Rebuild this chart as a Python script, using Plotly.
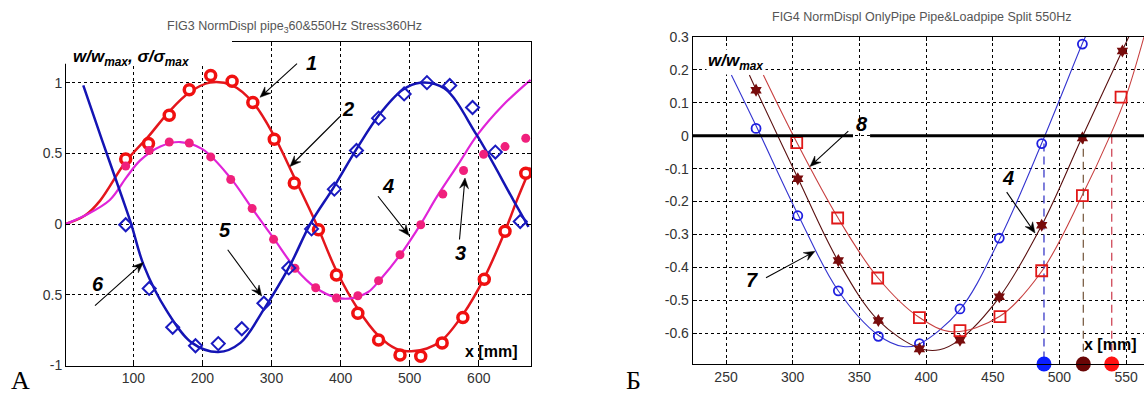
import math
import plotly.graph_objects as go

W, H = 1144, 403

# ---------------- Panel A data ----------------
red_line_x = [2, 30, 52, 89, 122, 151, 181, 211, 243, 273, 303, 333, 365, 394, 425, 455, 480, 502, 525, 547, 577, 608, 638, 655, 675]
red_line_y = [0, 0.06, 0.166, 0.44, 0.62, 0.79, 0.93, 1.0, 0.98, 0.86, 0.63, 0.33, 0.0, -0.33, -0.6, -0.79, -0.88, -0.9, -0.88, -0.82, -0.64, -0.38, -0.05, 0.166, 0.4]
red_pts_x = [89, 122, 152, 181, 212, 243, 273, 304, 333, 368, 394, 425, 455, 486, 516, 547, 577, 608, 638, 668]
red_pts_y = [0.46, 0.57, 0.77, 0.95, 1.05, 1.01, 0.86, 0.6, 0.29, -0.04, -0.36, -0.63, -0.82, -0.925, -0.935, -0.84, -0.66, -0.39, -0.05, 0.36]

mag_line_x = [2, 30, 66, 90, 110, 140, 168, 200, 240, 272, 303, 334, 364, 394, 415, 440, 456, 486, 516, 539, 570, 598, 635, 675]
mag_line_y = [0, 0.06, 0.17, 0.33, 0.45, 0.55, 0.58, 0.53, 0.33, 0.11, -0.1, -0.31, -0.45, -0.52, -0.525, -0.48, -0.4, -0.22, 0.0, 0.19, 0.42, 0.63, 0.84, 1.02]
mag_pts_x = [89, 123, 152, 181, 212, 241, 272, 303, 334, 364, 394, 425, 455, 486, 516, 548, 578, 607, 638, 668]
mag_pts_y = [0.41, 0.52, 0.58, 0.573, 0.475, 0.315, 0.11, -0.108, -0.313, -0.45, -0.523, -0.507, -0.4, -0.217, -0.005, 0.212, 0.379, 0.493, 0.548, 0.607]

blue_line_x = [27.6, 55, 83, 97, 115, 148, 185, 223, 255, 288, 327, 356, 390, 423, 457, 490, 515, 550, 597, 650, 672]
blue_line_y = [0.98, 0.59, 0.2, 0.0, -0.29, -0.61, -0.84, -0.905, -0.84, -0.61, -0.29, 0.0, 0.26, 0.53, 0.78, 0.95, 1.0, 0.96, 0.63, 0.17, -0.02]
blue_pts_x = [89, 123, 157, 190, 223, 257, 289, 325, 358, 391, 423, 455, 492, 525, 558, 591, 624, 660]
blue_pts_y = [-0.005, -0.455, -0.73, -0.86, -0.845, -0.74, -0.56, -0.31, -0.034, 0.247, 0.52, 0.749, 0.92, 1.0, 0.98, 0.824, 0.509, 0.018]

# ---------------- Panel B data ----------------
b_blue_line_x = [254, 272.5, 304, 334, 364, 383, 395, 425, 455, 487, 517, 519.5]
b_blue_line_y = [0.184, 0.03, -0.24, -0.47, -0.605, -0.64, -0.632, -0.53, -0.315, -0.02, 0.278, 0.3]
b_blue_pts_x = [272.5, 303.8, 334.2, 364.2, 395, 425.4, 454.9, 486.7, 517.2]
b_blue_pts_y = [0.022, -0.243, -0.471, -0.609, -0.631, -0.526, -0.311, -0.024, 0.278]

b_mar_line_x = [267.5, 272.5, 304, 334, 364, 395, 410, 425, 455, 487, 517, 547, 552]
b_mar_line_y = [0.184, 0.14, -0.13, -0.38, -0.56, -0.645, -0.65, -0.62, -0.49, -0.27, -0.005, 0.257, 0.3]
b_mar_pts_x = [272.5, 303.8, 334.2, 364.2, 395, 425.4, 454.9, 486.7, 517.2, 547.2]
b_mar_pts_y = [0.138, -0.131, -0.379, -0.561, -0.647, -0.621, -0.489, -0.272, -0.007, 0.257]

b_red_line_x = [278, 303, 334, 364, 395, 420, 455, 487, 517, 538, 550, 563.4]
b_red_line_y = [0.184, -0.02, -0.25, -0.432, -0.552, -0.595, -0.549, -0.41, -0.182, 0.0, 0.12, 0.3]
b_red_pts_x = [303, 333.7, 363.7, 395, 425.4, 455.4, 486.7, 517.2, 546.2]
b_red_pts_y = [-0.021, -0.25, -0.432, -0.552, -0.592, -0.549, -0.41, -0.182, 0.117]

split_x = [488.4, 517.9, 539.2]
split_top_y = [-0.024, 0.0, 0.0]
split_line_colors = ["#3a3ac8", "#7d6048", "#d04858"]
split_dot_colors = ["#0a1eff", "#6a0606", "#ff1212"]

# tick labels
a_xticks = [100, 200, 300, 400, 500, 600]
a_yticks = [-1, -0.5, 0, 0.5, 1]
a_yticktext = ["-1", "0.5", "0", "0.5", "1"]
b_xticks = [250, 300, 350, 400, 450, 500, 550]
b_yticks = [-0.6, -0.5, -0.4, -0.3, -0.2, -0.1, 0, 0.1, 0.2, 0.3]
b_yticktext = ["-0.6", "-0.5", "-0.4", "-0.3", "-0.2", "-0.1", "0", "0.1", "0.2", "0.3"]

fig = go.Figure()

# Panel A traces
fig.add_trace(go.Scatter(x=red_line_x, y=red_line_y, mode="lines", line=dict(color="#e4161c", width=2.5, shape="spline"), xaxis="x", yaxis="y"))
fig.add_trace(go.Scatter(x=mag_line_x, y=mag_line_y, mode="lines", line=dict(color="#e024d8", width=2.2, shape="spline"), xaxis="x", yaxis="y"))
fig.add_trace(go.Scatter(x=blue_line_x, y=blue_line_y, mode="lines", line=dict(color="#1414b4", width=2.5, shape="spline"), xaxis="x", yaxis="y"))
fig.add_trace(go.Scatter(x=red_pts_x, y=red_pts_y, mode="markers", marker=dict(symbol="circle", size=10, color="white", line=dict(color="#f01010", width=3.5)), xaxis="x", yaxis="y"))
fig.add_trace(go.Scatter(x=mag_pts_x, y=mag_pts_y, mode="markers", marker=dict(symbol="circle", size=9, color="#f0207c", line=dict(width=0)), xaxis="x", yaxis="y"))
fig.add_trace(go.Scatter(x=blue_pts_x, y=blue_pts_y, mode="markers", marker=dict(symbol="diamond-open", size=10, color="#1a1ac0", line=dict(color="#1a1ac0", width=2)), xaxis="x", yaxis="y"))

# Panel B traces
fig.add_trace(go.Scatter(x=b_blue_line_x, y=b_blue_line_y, mode="lines", line=dict(color="#3434d0", width=1.1, shape="spline"), xaxis="x2", yaxis="y2"))
fig.add_trace(go.Scatter(x=b_mar_line_x, y=b_mar_line_y, mode="lines", line=dict(color="#5a1010", width=1.1, shape="spline"), xaxis="x2", yaxis="y2"))
fig.add_trace(go.Scatter(x=b_red_line_x, y=b_red_line_y, mode="lines", line=dict(color="#c84040", width=1.1, shape="spline"), xaxis="x2", yaxis="y2"))
for sx, sy, c in zip(split_x, split_top_y, split_line_colors):
    fig.add_trace(go.Scatter(x=[sx, sx], y=[sy, -0.693], mode="lines", line=dict(color=c, width=1.3, dash="8px,5px"), xaxis="x2", yaxis="y2"))
fig.add_trace(go.Scatter(x=b_blue_pts_x, y=b_blue_pts_y, mode="markers", marker=dict(symbol="circle-open", size=9, color="#2020e0", line=dict(color="#2020e0", width=1.8)), xaxis="x2", yaxis="y2"))
fig.add_trace(go.Scatter(x=b_mar_pts_x, y=b_mar_pts_y, mode="markers", marker=dict(symbol="hexagram", size=10, color="#780c0c", line=dict(width=0)), xaxis="x2", yaxis="y2"))
fig.add_trace(go.Scatter(x=b_red_pts_x, y=b_red_pts_y, mode="markers", marker=dict(symbol="square-open", size=11, color="#e01818", line=dict(color="#e01818", width=1.8)), xaxis="x2", yaxis="y2"))
fig.add_trace(go.Scatter(x=split_x, y=[-0.693] * 3, mode="markers", marker=dict(symbol="circle", size=15, color=split_dot_colors), cliponaxis=False, xaxis="x2", yaxis="y2"))


def px(xp):
    return xp / W


def py(yp):
    return 1 - yp / H


tickfont = dict(family="Liberation Sans, Arial, sans-serif", size=14, color="#333")
common_axis = dict(showgrid=True, gridcolor="black", griddash="dot", gridwidth=1, showline=True, linecolor="black",
                   linewidth=1, ticks="inside", ticklen=4, tickcolor="black", zeroline=False, tickfont=tickfont)

fig.update_layout(
    autosize=True, margin=dict(l=0, r=0, t=0, b=0, pad=0), showlegend=False,
    paper_bgcolor="white", plot_bgcolor="white",
    xaxis=dict(domain=[px(66), px(531)], range=[2.6, 675.6], tickvals=a_xticks, mirror="allticks", anchor="y", **common_axis),
    yaxis=dict(domain=[py(372.3), py(35)], range=[-1, 1.29], tickvals=a_yticks, ticktext=a_yticktext, mirror="allticks", anchor="x", **common_axis),
    xaxis2=dict(domain=[px(692.7), 1.0], range=[225, 563.4], tickvals=b_xticks, mirror="allticks", anchor="y2", **common_axis),
    yaxis2=dict(domain=[py(370.7), py(30)], range=[-0.693, 0.3], tickvals=b_yticks, ticktext=b_yticktext, mirror=False, anchor="x2", **common_axis),
)

# thick zero line in panel B, interrupted by label 8; white box under the panel-A axis label
shapes = [
    dict(type="line", xref="x2", yref="y2", x0=225, x1=345.2, y0=0, y1=0, line=dict(color="black", width=3)),
    dict(type="line", xref="x2", yref="y2", x0=358.0, x1=563.4, y0=0, y1=0, line=dict(color="black", width=3)),
    dict(type="rect", xref="paper", yref="paper", x0=px(60), x1=px(232), y0=py(58), y1=py(28), fillcolor="white", line=dict(width=0), layer="above"),
]


def arrow_shape(tx, ty, hx, hy, L=11, hw=4.5):
    # arrow from tail (tx,ty) to head (hx,hy), pixel coordinates
    dx, dy = hx - tx, hy - ty
    n = math.hypot(dx, dy)
    ux, uy = dx / n, dy / n
    bx, by = hx - ux * L, hy - uy * L
    nx, ny = -uy, ux
    lx, ly = bx + nx * hw, by + ny * hw
    rx, ry = bx - nx * hw, by - ny * hw
    mx, my = hx - ux * L * 0.65, hy - uy * L * 0.65
    shapes.append(dict(type="line", xref="paper", yref="paper", x0=px(tx), y0=py(ty), x1=px(mx), y1=py(my),
                       line=dict(color="black", width=1.1), layer="above"))
    path = (f"M {px(hx)},{py(hy)} L {px(lx)},{py(ly)} L {px(mx)},{py(my)} "
            f"L {px(rx)},{py(ry)} Z")
    shapes.append(dict(type="path", xref="paper", yref="paper", path=path, fillcolor="black",
                       line=dict(color="black", width=0.5), layer="above"))


# panel A arrows
arrow_shape(297, 58, 260, 93)
arrow_shape(340, 113, 290, 165)
arrow_shape(459.5, 241, 465, 177)
arrow_shape(378, 196, 409, 237)
arrow_shape(227.7, 251.7, 261.7, 300)
arrow_shape(95, 310, 143.3, 265)
# panel B arrows
arrow_shape(848.3, 128.3, 810, 165)
arrow_shape(766, 281, 815, 253.3)
arrow_shape(1006.7, 191.7, 1035, 234.3)

fig.update_layout(shapes=shapes)

ann = []
lab = dict(family="Liberation Sans, Arial, sans-serif", size=20, color="black")


def text_at(xp, yp, t, font, xanchor="center", bg=None):
    d = dict(xref="paper", yref="paper", x=px(xp), y=py(yp), text=t, showarrow=False, font=font, xanchor=xanchor, yanchor="middle")
    if bg:
        d["bgcolor"] = bg
    ann.append(d)


# titles
tfont = dict(family="Liberation Sans, Arial, sans-serif", size=12.5, color="#555")
text_at(294, 20, "FIG3 NormDispl pipe<sub>3</sub>60&550Hz Stress360Hz", tfont)
text_at(921, 9, "FIG4 NormDispl OnlyPipe Pipe&Loadpipe Split 550Hz", tfont)

# axis labels
text_at(71, 52, "<b><i>w/w<sub>max</sub>, σ/σ<sub>max</sub></i></b>", dict(family="Liberation Sans, Arial, sans-serif", size=17, color="black"), xanchor="left")
text_at(706, 56, "<b><i>w/w<sub>max</sub></i></b>", dict(family="Liberation Sans, Arial, sans-serif", size=17, color="black"), xanchor="left", bg="white")
text_at(491, 358, "<b>x [mm]</b>", dict(family="Liberation Sans, Arial, sans-serif", size=16, color="black"))
text_at(1110, 350, "<b>x [mm]</b>", dict(family="Liberation Sans, Arial, sans-serif", size=16, color="black"))

# panel letters
pfont = dict(family="Liberation Serif, Times New Roman, serif", size=26, color="black")
text_at(20, 388, "А", pfont)
text_at(633, 388, "Б", pfont)

# curve labels
for xp, yp, t in [(311, 57, "1"), (348, 105, "2"), (460, 255, "3"), (388, 185, "4"), (225, 231, "5"), (98, 287, "6"),
                  (861.5, 120.5, "8"), (751.7, 283.3, "7"), (1008.3, 176.7, "4")]:
    text_at(xp, yp, f"<b><i>{t}</i></b>", lab)

fig.update_layout(annotations=ann)

post = """
document.documentElement.style.height='100%';
document.documentElement.style.margin='0';
document.documentElement.style.overflow='hidden';
document.body.style.height='100%';
document.body.style.margin='0';
document.body.style.overflow='hidden';
var gd=document.getElementById('{plot_id}');
gd.parentElement.style.height='100%';
gd.parentElement.style.width='100%';
gd.style.height='100%';
gd.style.width='100%';
Plotly.Plots.resize(gd);
"""
fig.write_html("out.html", config={"displayModeBar": False, "responsive": True},
               default_width="100%", default_height="100%", post_script=post)
